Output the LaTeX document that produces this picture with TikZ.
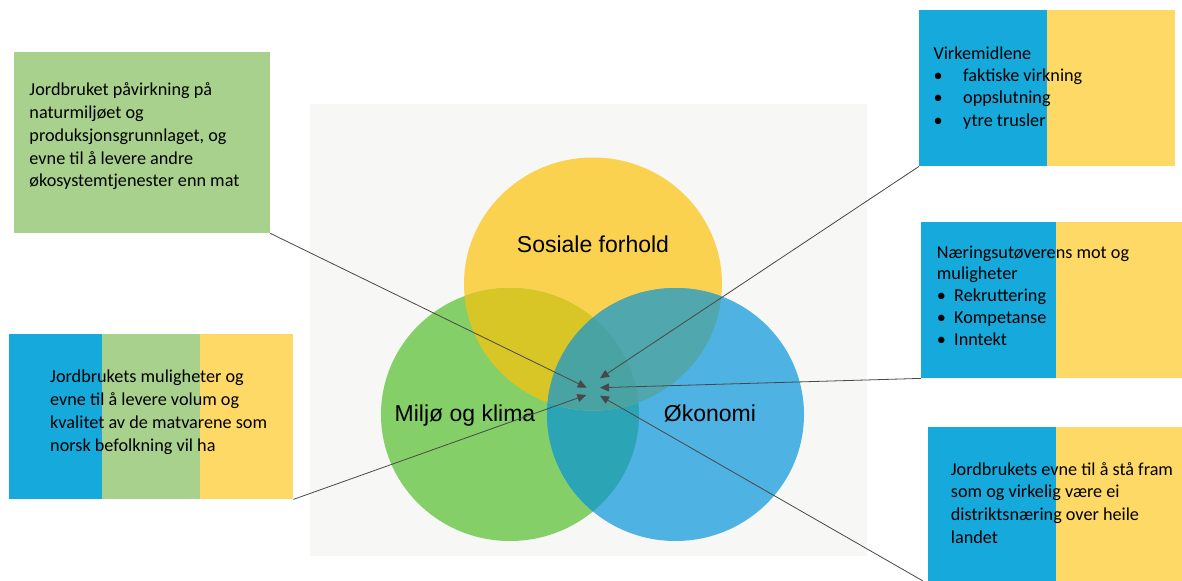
\documentclass[tikz,border=0pt]{standalone}
\usepackage{fontspec}
\setmainfont{Carlito}
\newfontfamily\vennfont{Liberation Sans}
\usetikzlibrary{arrows.meta}
\definecolor{cY}{RGB}{251,210,79}
\definecolor{cG}{RGB}{133,207,105}
\definecolor{cB}{RGB}{78,178,226}
\definecolor{cYG}{RGB}{216,198,38}
\definecolor{cYB}{RGB}{80,167,174}
\definecolor{cGB}{RGB}{43,165,182}
\definecolor{cYGB}{RGB}{74,163,163}
\definecolor{bgGray}{RGB}{247,247,245}
\definecolor{bBlue}{RGB}{22,170,220}
\definecolor{bYellow}{RGB}{255,217,102}
\definecolor{bGreen}{RGB}{169,209,142}
\definecolor{lineGray}{RGB}{72,72,72}
\newcommand\bxtext[3]{\parbox[t]{#1}{\raggedright\fontsize{18.2bp}{#2}\selectfont #3}}
\newcommand\bul[1]{\makebox[#1][l]{•}}
\begin{document}
\begin{tikzpicture}[x=1bp,y=-1bp,
  boxshape/.style={rectangle,draw=none,inner sep=0,anchor=north west},
  boxtxt/.style={anchor=base west,inner sep=0,text=black},
  vlabel/.style={anchor=base,inner sep=0,font=\vennfont\fontsize{23bp}{27bp}\selectfont,text=black},
  conn/.style={draw=lineGray,line width=0.8bp,-{Triangle[length=9bp,width=8bp]}}]
\useasboundingbox (0,0) rectangle (1182,581);
\fill[white] (0,0) rectangle (1182,581);
% background of Venn
\fill[bgGray] (310,104) rectangle (867,556);
% Venn circles
\fill[cY] (593,284) ellipse [x radius=129,y radius=126.5];
\fill[cG] (510,414.5) ellipse [x radius=129,y radius=126.5];
\fill[cB] (675.5,414.5) ellipse [x radius=128.5,y radius=126.5];
\begin{scope}
  \clip (510,414.5) ellipse [x radius=129,y radius=126.5];
  \fill[cGB] (675.5,414.5) ellipse [x radius=128.5,y radius=126.5];
\end{scope}
\begin{scope}
  \clip (593,284) ellipse [x radius=129,y radius=126.5];
  \fill[cYG] (510,414.5) ellipse [x radius=129,y radius=126.5];
  \fill[cYB] (675.5,414.5) ellipse [x radius=128.5,y radius=126.5];
  \clip (510,414.5) ellipse [x radius=129,y radius=126.5];
  \fill[cYGB] (675.5,414.5) ellipse [x radius=128.5,y radius=126.5];
\end{scope}
\node[vlabel] (sos) at (593,253) {Sosiale forhold};
\node[vlabel] (mil) at (465,421) {Miljø og klima};
\node[vlabel] (oko) at (710,421) {Økonomi};
% boxes
\node[boxshape,fill=bGreen,minimum width=256bp,minimum height=181bp] (tl) at (14,52) {};
\node[boxshape,fill=bYellow,minimum width=284bp,minimum height=165bp] (bl) at (9,334) {};
\fill[bBlue] (9,334) rectangle (102,499);
\fill[bGreen] (102,334) rectangle (200,499);
\node[boxshape,fill=bYellow,minimum width=256bp,minimum height=156bp] (tr) at (919,10) {};
\fill[bBlue] (919,10) rectangle (1047,166);
\node[boxshape,fill=bYellow,minimum width=261bp,minimum height=156bp] (mr) at (921,222) {};
\fill[bBlue] (921,222) rectangle (1056,378);
\node[boxshape,fill=bYellow,minimum width=254bp,minimum height=160bp] (br) at (928,427) {};
\fill[bBlue] (928,427) rectangle (1056,587);
% box texts
\node[boxtxt] (tltext) at (29.3,96) {\bxtext{300bp}{22.7bp}{Jordbruket påvirkning på\\naturmiljøet og\\produksjonsgrunnlaget, og\\evne til å levere andre\\økosystemtjenester enn mat}};
\node[boxtxt] (bltext) at (50,382.5) {\bxtext{300bp}{23bp}{Jordbrukets muligheter og\\evne til å levere volum og\\kvalitet av de matvarene som\\norsk befolkning vil ha}};
\node[boxtxt] (trtext) at (933.3,59.3) {\bxtext{300bp}{22.3bp}{Virkemidlene\\\bul{29.7bp}faktiske virkning\\\bul{29.7bp}oppslutning\\\bul{29.7bp}ytre trusler}};
\node[boxtxt] (mrtext) at (936.7,258.3) {\bxtext{300bp}{21.7bp}{Næringsutøverens mot og\\muligheter\\\bul{17.3bp}Rekruttering\\\bul{17.3bp}Kompetanse\\\bul{17.3bp}Inntekt}};
\node[boxtxt] (brtext) at (950.7,475) {\bxtext{300bp}{22.7bp}{Jordbrukets evne til å stå fram\\som og virkelig være ei\\distriktsnæring over heile\\landet}};
% arrow tips
\coordinate (t1) at (586.7,387.7);
\coordinate (t2) at (586.3,395);
\coordinate (t3) at (600,378.3);
\coordinate (t4) at (600,387.7);
\coordinate (t5) at (600,395.7);
\coordinate (e5) at (923,581);
\draw[conn] (tl.south east) -- (t1);
\draw[conn] (bl.south east) -- (t2);
\draw[conn] (tr.south west) -- (t3);
\draw[conn] (mr.south west) -- (t4);
\draw[conn] (e5) -- (t5);
\end{tikzpicture}
\end{document}
